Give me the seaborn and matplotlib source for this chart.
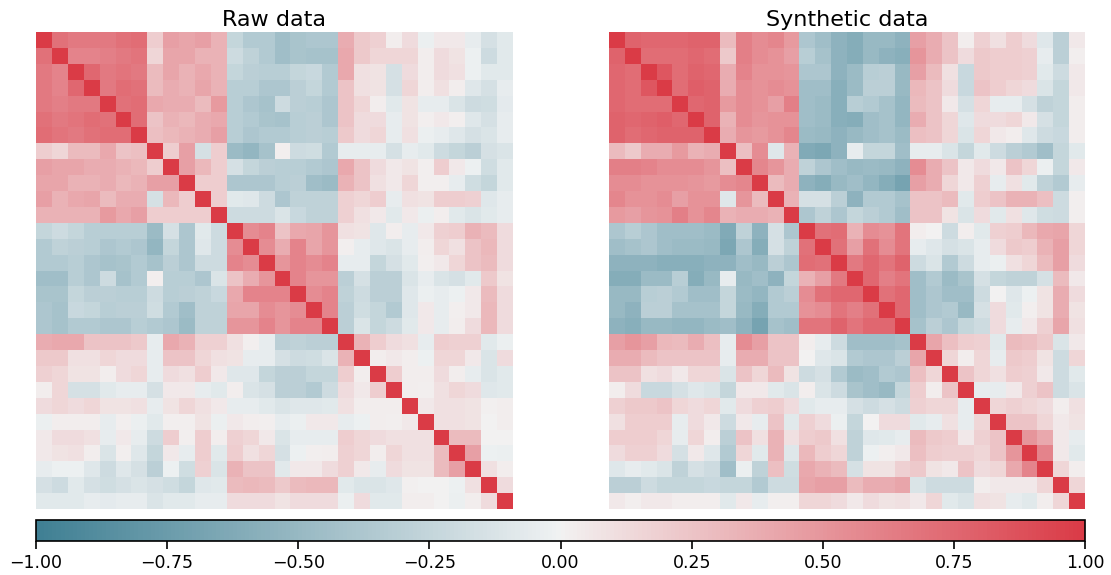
import numpy as np
import matplotlib
matplotlib.use("Agg")  # no display
import matplotlib.pyplot as plt
import seaborn as sns

titles = ["Raw data", "Synthetic data"]
cbar_ticks = [-1.0, -0.75, -0.5, -0.25, 0.0, 0.25, 0.5, 0.75, 1.0]

# lower triangle of each correlation matrix, row i holds corr with columns 0..i-1
raw_lower = [
    [0.70],
    [0.65, 0.60],
    [0.65, 0.60, 0.75],
    [0.65, 0.62, 0.65, 0.65],
    [0.70, 0.65, 0.68, 0.72, 0.70],
    [0.72, 0.68, 0.65, 0.70, 0.72, 0.72],
    [0.20, 0.15, 0.30, 0.30, 0.40, 0.25, 0.28],
    [0.45, 0.42, 0.42, 0.38, 0.38, 0.35, 0.32, 0.20],
    [0.42, 0.42, 0.35, 0.35, 0.38, 0.32, 0.35, 0.45, 0.45],
    [0.45, 0.35, 0.40, 0.42, 0.30, 0.38, 0.38, -0.15, 0.32, 0.20],
    [0.35, 0.35, 0.35, 0.35, 0.48, 0.40, 0.45, 0.20, 0.20, 0.20, 0.20],
    [-0.25, -0.20, -0.25, -0.32, -0.32, -0.32, -0.32, -0.48, -0.15, -0.38, -0.08, -0.20],
    [-0.35, -0.28, -0.30, -0.32, -0.38, -0.35, -0.38, -0.52, -0.25, -0.38, -0.10, -0.20, 0.55],
    [-0.35, -0.35, -0.32, -0.38, -0.42, -0.40, -0.35, -0.42, -0.30, -0.38, -0.20, -0.20, 0.60, 0.55],
    [-0.45, -0.45, -0.32, -0.38, -0.20, -0.42, -0.35, 0.02, -0.32, -0.32, -0.38, -0.12, 0.25, 0.38, 0.50],
    [-0.40, -0.40, -0.25, -0.30, -0.30, -0.32, -0.32, -0.20, -0.32, -0.30, -0.28, -0.22, 0.40, 0.60, 0.60, 0.60],
    [-0.38, -0.42, -0.22, -0.25, -0.32, -0.30, -0.30, -0.18, -0.35, -0.45, -0.28, -0.28, 0.42, 0.42, 0.55, 0.50,
     0.55],
    [-0.38, -0.42, -0.35, -0.35, -0.38, -0.38, -0.32, -0.35, -0.38, -0.48, -0.28, -0.28, 0.50, 0.50, 0.60, 0.50,
     0.60, 0.60],
    [0.38, 0.40, 0.40, 0.25, 0.25, 0.25, 0.22, -0.05, 0.40, 0.35, 0.18, 0.18, 0.10, 0.02, -0.05, -0.30,
     -0.28, -0.30, -0.30],
    [0.22, 0.22, 0.10, 0.10, 0.15, 0.12, 0.12, -0.05, 0.25, 0.25, 0.15, 0.10, 0.08, -0.05, -0.05, -0.15,
     -0.20, -0.18, -0.12, 0.35],
    [0.18, 0.15, 0.08, 0.08, 0.03, 0.12, 0.15, -0.05, 0.12, 0.10, 0.20, 0.05, -0.10, -0.10, -0.25, -0.30,
     -0.30, -0.25, -0.25, 0.20, 0.03],
    [0.03, 0.15, -0.15, -0.15, -0.08, -0.05, -0.05, -0.15, 0.05, 0.05, -0.05, -0.08, 0.03, -0.12, -0.15, -0.30,
     -0.30, -0.35, -0.20, 0.12, 0.05, 0.20],
    [0.12, 0.15, 0.12, 0.15, 0.08, 0.08, 0.10, -0.05, 0.08, 0.15, 0.10, 0.05, -0.05, -0.05, -0.08, -0.12,
     -0.10, -0.10, -0.08, 0.10, 0.03, 0.03, 0.03],
    [-0.03, 0.03, 0.03, 0.03, -0.05, 0.02, -0.03, -0.08, 0.02, 0.02, 0.08, -0.03, 0.05, 0.03, 0.02, -0.05,
     -0.03, 0.05, 0.05, -0.05, -0.02, 0.03, 0.02, 0.05],
    [0.05, 0.12, 0.12, 0.10, -0.05, 0.05, -0.05, -0.20, 0.20, 0.02, 0.20, 0.03, 0.18, 0.15, 0.05, -0.12,
     -0.05, -0.05, -0.05, 0.20, 0.15, 0.12, 0.10, 0.10, 0.10],
    [0.05, 0.08, 0.10, 0.03, -0.12, 0.02, -0.10, -0.25, 0.05, -0.05, 0.20, -0.08, 0.20, 0.10, 0.15, -0.15,
     -0.02, 0.02, 0.03, 0.18, 0.15, 0.03, 0.15, 0.10, 0.10, 0.30],
    [-0.05, -0.02, -0.02, -0.10, -0.20, -0.10, -0.15, -0.30, -0.02, -0.18, 0.18, -0.12, 0.35, 0.25, 0.25, -0.08,
     0.05, 0.05, 0.12, 0.18, 0.05, -0.05, 0.12, 0.08, 0.08, 0.30, 0.45],
    [-0.15, -0.20, -0.08, -0.15, -0.18, -0.15, -0.12, -0.15, -0.18, -0.25, -0.10, -0.08, 0.30, 0.32, 0.30, 0.22,
     0.30, 0.32, 0.32, -0.08, -0.12, -0.12, -0.10, 0.01, 0.00, 0.00, -0.02, 0.10],
    [-0.08, -0.08, -0.08, -0.05, -0.07, -0.05, -0.05, -0.12, -0.08, -0.08, -0.05, -0.05, 0.12, 0.12, 0.12, 0.08,
     0.12, 0.12, 0.12, -0.03, 0.12, -0.08, -0.08, 0.03, 0.03, 0.00, -0.03, 0.03, 0.12],
]

synth_lower = [
    [0.78],
    [0.75, 0.72],
    [0.75, 0.72, 0.85],
    [0.75, 0.72, 0.72, 0.72],
    [0.78, 0.75, 0.78, 0.80, 0.75],
    [0.78, 0.72, 0.75, 0.78, 0.78, 0.78],
    [0.30, 0.22, 0.38, 0.38, 0.48, 0.35, 0.38],
    [0.62, 0.62, 0.60, 0.55, 0.55, 0.55, 0.50, 0.28],
    [0.55, 0.55, 0.52, 0.52, 0.52, 0.50, 0.48, 0.55, 0.58],
    [0.58, 0.52, 0.52, 0.55, 0.45, 0.52, 0.52, -0.10, 0.50, 0.30],
    [0.48, 0.45, 0.50, 0.52, 0.62, 0.52, 0.58, 0.35, 0.38, 0.38, 0.35],
    [-0.38, -0.32, -0.38, -0.45, -0.45, -0.45, -0.48, -0.62, -0.28, -0.55, -0.15, -0.38],
    [-0.45, -0.42, -0.38, -0.45, -0.48, -0.48, -0.50, -0.65, -0.38, -0.60, -0.15, -0.28, 0.70],
    [-0.55, -0.55, -0.55, -0.58, -0.58, -0.58, -0.55, -0.55, -0.45, -0.50, -0.30, -0.38, 0.72, 0.70],
    [-0.60, -0.60, -0.48, -0.48, -0.32, -0.60, -0.50, -0.05, -0.50, -0.45, -0.55, -0.25, 0.35, 0.45, 0.65],
    [-0.50, -0.50, -0.32, -0.30, -0.35, -0.45, -0.45, -0.25, -0.48, -0.52, -0.35, -0.30, 0.55, 0.70, 0.75, 0.75],
    [-0.50, -0.55, -0.30, -0.30, -0.42, -0.42, -0.42, -0.25, -0.50, -0.60, -0.35, -0.35, 0.52, 0.55, 0.68, 0.62,
     0.70],
    [-0.55, -0.58, -0.50, -0.50, -0.52, -0.52, -0.48, -0.45, -0.55, -0.68, -0.42, -0.45, 0.68, 0.68, 0.78, 0.68,
     0.75, 0.75],
    [0.45, 0.50, 0.45, 0.32, 0.30, 0.38, 0.28, -0.05, 0.55, 0.45, 0.25, 0.25, 0.03, -0.05, -0.20, -0.45,
     -0.45, -0.45, -0.42],
    [0.38, 0.38, 0.30, 0.25, 0.25, 0.25, 0.25, -0.05, 0.38, 0.38, 0.25, 0.25, 0.00, -0.10, -0.12, -0.35,
     -0.38, -0.38, -0.30, 0.42],
    [0.25, 0.25, 0.10, 0.12, 0.05, 0.15, 0.15, -0.12, 0.25, 0.15, 0.30, 0.08, -0.20, -0.15, -0.35, -0.48,
     -0.45, -0.35, -0.38, 0.28, 0.15],
    [0.03, 0.12, -0.22, -0.22, -0.15, -0.10, -0.12, -0.25, 0.05, 0.05, -0.08, -0.12, 0.03, -0.12, -0.20, -0.40,
     -0.45, -0.50, -0.25, 0.20, 0.03, 0.25],
    [0.18, 0.22, 0.22, 0.25, 0.15, 0.12, 0.15, -0.08, 0.12, 0.18, 0.20, 0.12, -0.08, -0.05, -0.05, -0.15,
     -0.20, -0.15, -0.20, 0.18, 0.15, 0.15, -0.05],
    [0.10, 0.20, 0.20, 0.20, -0.05, 0.12, 0.05, -0.20, 0.05, -0.05, 0.25, -0.08, 0.18, 0.12, -0.03, -0.25,
     0.00, 0.12, 0.12, -0.08, -0.05, 0.10, -0.05, 0.15],
    [0.20, 0.20, 0.20, 0.15, -0.05, 0.15, 0.03, -0.30, 0.25, 0.10, 0.35, 0.10, 0.20, 0.22, 0.10, -0.28,
     -0.10, -0.08, -0.05, 0.30, 0.22, 0.20, 0.05, 0.18, 0.25],
    [0.12, 0.18, 0.18, 0.12, -0.15, 0.05, -0.10, -0.35, 0.15, -0.08, 0.35, -0.10, 0.32, 0.20, 0.15, -0.28,
     -0.02, 0.02, 0.05, 0.28, 0.20, 0.18, 0.18, 0.15, 0.25, 0.50],
    [-0.10, -0.05, -0.08, -0.12, -0.28, -0.15, -0.20, -0.45, -0.03, -0.28, 0.28, -0.18, 0.40, 0.35, 0.30, -0.15,
     0.08, 0.08, 0.18, 0.22, 0.08, 0.05, 0.25, 0.12, 0.15, 0.40, 0.60],
    [-0.30, -0.30, -0.20, -0.25, -0.25, -0.25, -0.22, -0.25, -0.25, -0.35, -0.20, -0.20, 0.42, 0.45, 0.45, 0.30,
     0.38, 0.38, 0.42, -0.12, -0.20, -0.20, -0.20, 0.03, 0.05, 0.05, 0.05, 0.15],
    [0.05, 0.02, 0.05, 0.05, 0.03, 0.03, 0.03, -0.08, 0.05, -0.05, 0.02, 0.02, 0.15, 0.15, 0.12, 0.05,
     0.12, 0.08, 0.10, 0.05, 0.15, -0.08, -0.12, 0.10, 0.08, -0.05, -0.08, 0.03, 0.15],
]


def to_matrix(lower):
    n = len(lower) + 1
    m = np.eye(n)
    for i, row in enumerate(lower, start=1):
        m[i, :i] = row
        m[:i, i] = row
    return m


W, H = 1111, 575
fig = plt.figure(figsize=(W / 100, H / 100), dpi=100)
ax_raw = fig.add_axes([36 / W, 1 - 509 / H, 477 / W, 477 / H])
ax_syn = fig.add_axes([609 / W, 1 - 509 / H, 476 / W, 477 / H])
cax = fig.add_axes([36 / W, 1 - 541 / H, 1049 / W, 21 / H])

cmap = sns.diverging_palette(220, 10, as_cmap=True)

for i, (ax, lower, title) in enumerate(zip([ax_raw, ax_syn], [raw_lower, synth_lower], titles)):
    sns.heatmap(
        to_matrix(lower),
        ax=ax,
        cmap=cmap,
        vmin=-1,
        vmax=1,
        xticklabels=False,
        yticklabels=False,
        cbar=(i == 0),
        cbar_ax=cax if i == 0 else None,
        cbar_kws={"orientation": "horizontal", "ticks": cbar_ticks},
    )
    ax.set_title(title, fontsize=16, pad=4)

cax.tick_params(labelsize=12.5, length=6, width=1.2)
cbar = ax_raw.collections[0].colorbar
cbar.outline.set_visible(True)
cbar.outline.set_edgecolor("black")
cbar.outline.set_linewidth(1.2)

fig.savefig("out.png", dpi=100)
plt.close(fig)
